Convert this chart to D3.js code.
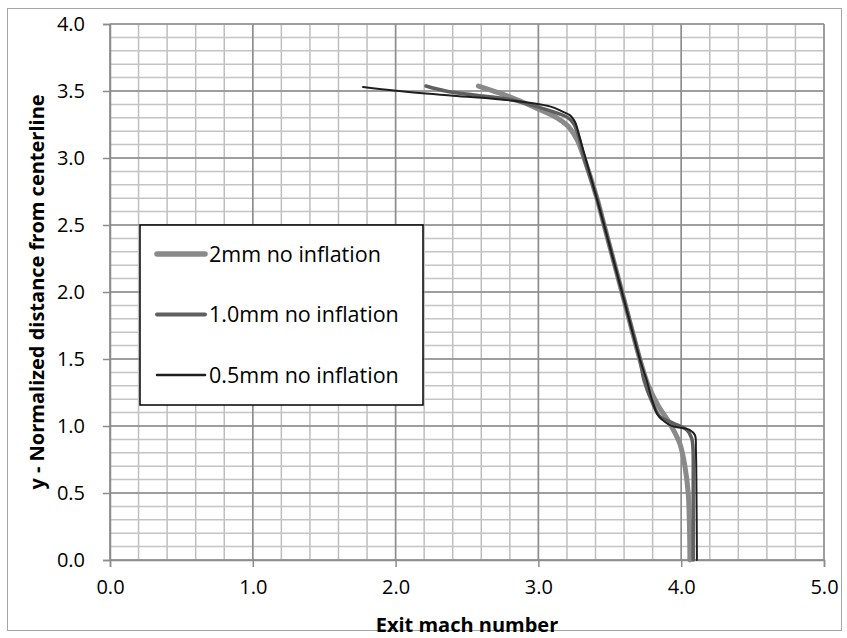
<!DOCTYPE html>
<html>
<head>
<meta charset="utf-8">
<script src="https://cdn.jsdelivr.net/npm/d3@7"></script>
<style>
  body { margin: 0; background: #fff; }
  text { font-family: "Open Sans", sans-serif; fill: #000; }
</style>
</head>
<body>
<svg id="chart" width="847" height="638"></svg>
<script>
// values: [mach, y]
var seriesNames = ["2mm no inflation", "1.0mm no inflation", "0.5mm no inflation"];

var mm2 = [[2.58,3.537],[2.80,3.457],[2.99,3.37],[3.13,3.30],[3.21,3.235],[3.27,3.14],[3.32,3.0],
  [3.41,2.70],[3.46,2.5],[3.585,2.0],[3.71,1.5],[3.77,1.30],[3.84,1.15],[3.92,1.02],[3.99,0.87],
  [4.026,0.70],[4.049,0.50],[4.058,0.25],[4.061,0]];

var mm1 = [[2.213,3.537],[2.35,3.50],[2.55,3.47],[2.80,3.437],[3.00,3.38],[3.10,3.346],[3.20,3.305],
  [3.245,3.26],[3.28,3.17],[3.32,3.0],[3.41,2.7],[3.46,2.5],[3.585,2.0],[3.71,1.5],[3.74,1.34],
  [3.80,1.17],[3.851,1.07],[3.942,1.022],[4.04,0.97],[4.073,0.91],[4.082,0.84],[4.084,0.5],[4.084,0]];

var mm05 = [[1.772,3.53],[2.004,3.502],[2.40,3.465],[2.80,3.43],[3.08,3.385],[3.17,3.346],[3.22,3.32],
  [3.256,3.27],[3.29,3.15],[3.33,3.0],[3.408,2.70],[3.46,2.5],[3.585,2.0],[3.71,1.5],[3.758,1.343],
  [3.80,1.18],[3.837,1.082],[3.921,1.007],[4.061,0.97],[4.096,0.933],[4.103,0.82],[4.107,0.5],[4.11,0]];

var xTicks = [0, 1, 2, 3, 4, 5];
var yTicks = [0, 0.5, 1, 1.5, 2, 2.5, 3, 3.5, 4];

var series = [
  { name: seriesNames[0], values: mm2, color: "#8a8a8a", width: 5 },
  { name: seriesNames[1], values: mm1, color: "#5f5f5f", width: 3.5 },
  { name: seriesNames[2], values: mm05, color: "#1e1e1e", width: 2 }
];

var svg = d3.select("#chart");
var pLeft = 110, pRight = 824, pTop = 24, pBottom = 560;

var x = d3.scaleLinear().domain([0, 5]).range([pLeft, pRight]);
var y = d3.scaleLinear().domain([0, 4]).range([pBottom, pTop]);

// outer chart border
svg.append("rect")
  .attr("x", 7.5).attr("y", 8.5)
  .attr("width", 834).attr("height", 622)
  .attr("fill", "none").attr("stroke", "#a6a6a6").attr("stroke-width", 1);

var grid = svg.append("g");

// minor grid
grid.selectAll(".vminor")
  .data(d3.range(0, 5.001, 0.2))
  .enter().append("line")
  .attr("x1", function(d){ return x(d); }).attr("x2", function(d){ return x(d); })
  .attr("y1", pTop).attr("y2", pBottom)
  .attr("stroke", "#bebebe").attr("stroke-width", 1.5);

grid.selectAll(".hminor")
  .data(d3.range(0, 4.001, 0.1))
  .enter().append("line")
  .attr("y1", function(d){ return y(d); }).attr("y2", function(d){ return y(d); })
  .attr("x1", pLeft).attr("x2", pRight)
  .attr("stroke", "#c4c4c4").attr("stroke-width", 1.5);

// major grid
grid.selectAll(".vmajor")
  .data(xTicks)
  .enter().append("line")
  .attr("x1", function(d){ return x(d); }).attr("x2", function(d){ return x(d); })
  .attr("y1", pTop).attr("y2", pBottom)
  .attr("stroke", "#8c8c8c").attr("stroke-width", 1.5);

grid.selectAll(".hmajor")
  .data(yTicks)
  .enter().append("line")
  .attr("y1", function(d){ return y(d); }).attr("y2", function(d){ return y(d); })
  .attr("x1", pLeft).attr("x2", pRight)
  .attr("stroke", "#8c8c8c").attr("stroke-width", 1.5);

// axes
var xAxis = svg.append("g")
  .attr("transform", "translate(0," + pBottom + ")")
  .call(d3.axisBottom(x).tickValues(xTicks).tickSize(7).tickPadding(13)
    .tickFormat(d3.format(".1f")));

var yAxis = svg.append("g")
  .attr("transform", "translate(" + pLeft + ",0)")
  .call(d3.axisLeft(y).tickValues(yTicks).tickSize(7).tickPadding(18)
    .tickFormat(d3.format(".1f")));

[xAxis, yAxis].forEach(function(a){
  a.select(".domain").attr("stroke", "#8c8c8c").attr("stroke-width", 1.5);
  a.selectAll(".tick line").attr("stroke", "#8c8c8c").attr("stroke-width", 1.5);
  a.selectAll(".tick text").attr("font-size", 20).attr("fill", "#000")
    .style("font-family", "'Open Sans', sans-serif");
});

// curves
var line = d3.line()
  .x(function(d){ return x(d[0]); })
  .y(function(d){ return y(d[1]); })
  .curve(d3.curveCatmullRom.alpha(0.5));

svg.selectAll(".series")
  .data(series)
  .enter().append("path")
  .attr("class", "series")
  .attr("d", function(d){ return line(d.values); })
  .attr("fill", "none")
  .attr("stroke", function(d){ return d.color; })
  .attr("stroke-width", function(d){ return d.width; })
  .attr("stroke-linecap", "round")
  .attr("stroke-linejoin", "round");

// legend
var legend = svg.append("g");
legend.append("rect")
  .attr("x", 140).attr("y", 225)
  .attr("width", 283).attr("height", 180)
  .attr("fill", "#fff").attr("stroke", "#000").attr("stroke-width", 1.5);

var items = legend.selectAll(".item")
  .data(series)
  .enter().append("g")
  .attr("transform", function(d, i){ return "translate(0," + (254 + i * 60.5) + ")"; });

items.append("line")
  .attr("x1", 157).attr("x2", 205)
  .attr("stroke", function(d){ return d.color; })
  .attr("stroke-width", function(d){ return d.width + 0.5; })
  .attr("stroke-linecap", "round");

items.append("text")
  .attr("x", 209).attr("dy", "0.35em")
  .attr("font-size", 21.5)
  .text(function(d){ return d.name; });

// axis titles
svg.append("text")
  .attr("x", (pLeft + pRight) / 2).attr("y", 632)
  .attr("text-anchor", "middle")
  .attr("font-size", 20).attr("font-weight", "bold")
  .text("Exit mach number");

svg.append("text")
  .attr("transform", "translate(44," + ((pTop + pBottom) / 2) + ") rotate(-90)")
  .attr("text-anchor", "middle")
  .attr("font-size", 20).attr("font-weight", "bold")
  .text("y - Normalized distance from centerline");
</script>
</body>
</html>
